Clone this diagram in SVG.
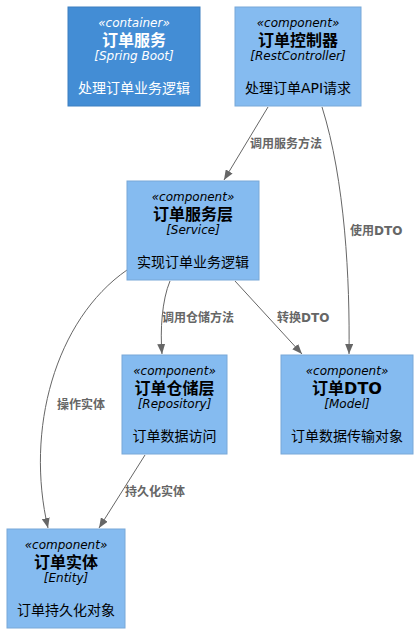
<svg xmlns="http://www.w3.org/2000/svg" width="418" height="633" viewBox="0 0 418 633">
<style>
.box{fill:#85BBF0;stroke:#78A8D8;stroke-width:1}
.cont{fill:#438DD5;stroke:#3C7FC0;stroke-width:1}
text{font-family:"DejaVu Sans","Noto Sans CJK SC",sans-serif;text-anchor:middle}
.st{font-size:12px;font-style:italic}
.ti{font-size:16px;font-weight:bold}
.te{font-size:12px;font-style:italic}
.de{font-size:14px}
.dk{fill:#000}
.wh{fill:#fff}
.edge{fill:none;stroke:#666666;stroke-width:1}
.lbl{font-size:12px;font-weight:bold;fill:#666666;text-anchor:start}
</style>
<defs>
<marker id="arr" viewBox="0 0 10 8" refX="10" refY="4" markerWidth="10" markerHeight="8" orient="auto" markerUnits="userSpaceOnUse">
<path d="M0,0 L10,4 L0,8 Z" fill="#666666"/>
</marker>
</defs>
<g id="edges">
<path class="edge" d="M268,107 L224,180" marker-end="url(#arr)"/>
<text class="lbl" x="250" y="148">调用服务方法</text>
<path class="edge" d="M322,107 C345,180 350,280 349,354" marker-end="url(#arr)"/>
<text class="lbl" x="350" y="235">使用DTO</text>
<path class="edge" d="M170,281 C162,300 160,330 162,354" marker-end="url(#arr)"/>
<text class="lbl" x="162" y="322">调用仓储方法</text>
<path class="edge" d="M235,281 L302,354" marker-end="url(#arr)"/>
<text class="lbl" x="277" y="322">转换DTO</text>
<path class="edge" d="M127,270 C55,320 25,430 48,528" marker-end="url(#arr)"/>
<text class="lbl" x="57" y="409">操作实体</text>
<path class="edge" d="M145,455 L99,528" marker-end="url(#arr)"/>
<text class="lbl" x="125" y="496">持久化实体</text>
</g>
<g id="container">
<rect class="cont" x="68" y="7" width="132" height="99"/>
<text class="st wh" x="134" y="27">«container»</text>
<text class="ti wh" x="134" y="46">订单服务</text>
<text class="te wh" x="134" y="60">[Spring Boot]</text>
<text class="de wh" x="134" y="93">处理订单业务逻辑</text>
</g>
<g id="controller">
<rect class="box" x="235" y="7" width="126" height="99"/>
<text class="st dk" x="298" y="27">«component»</text>
<text class="ti dk" x="298" y="46">订单控制器</text>
<text class="te dk" x="298" y="60">[RestController]</text>
<text class="de dk" x="298" y="93">处理订单API请求</text>
</g>
<g id="service">
<rect class="box" x="127" y="181" width="132" height="99"/>
<text class="st dk" x="193" y="201">«component»</text>
<text class="ti dk" x="193" y="220">订单服务层</text>
<text class="te dk" x="193" y="234">[Service]</text>
<text class="de dk" x="193" y="267">实现订单业务逻辑</text>
</g>
<g id="repository">
<rect class="box" x="122" y="355" width="105" height="99"/>
<text class="st dk" x="174.5" y="375">«component»</text>
<text class="ti dk" x="174.5" y="394">订单仓储层</text>
<text class="te dk" x="174.5" y="408">[Repository]</text>
<text class="de dk" x="174.5" y="441">订单数据访问</text>
</g>
<g id="dto">
<rect class="box" x="281" y="355" width="132" height="99"/>
<text class="st dk" x="347" y="375">«component»</text>
<text class="ti dk" x="347" y="394">订单DTO</text>
<text class="te dk" x="347" y="408">[Model]</text>
<text class="de dk" x="347" y="441">订单数据传输对象</text>
</g>
<g id="entity">
<rect class="box" x="7" y="529" width="118" height="99"/>
<text class="st dk" x="66" y="549">«component»</text>
<text class="ti dk" x="66" y="568">订单实体</text>
<text class="te dk" x="66" y="582">[Entity]</text>
<text class="de dk" x="66" y="615">订单持久化对象</text>
</g>
</svg>
